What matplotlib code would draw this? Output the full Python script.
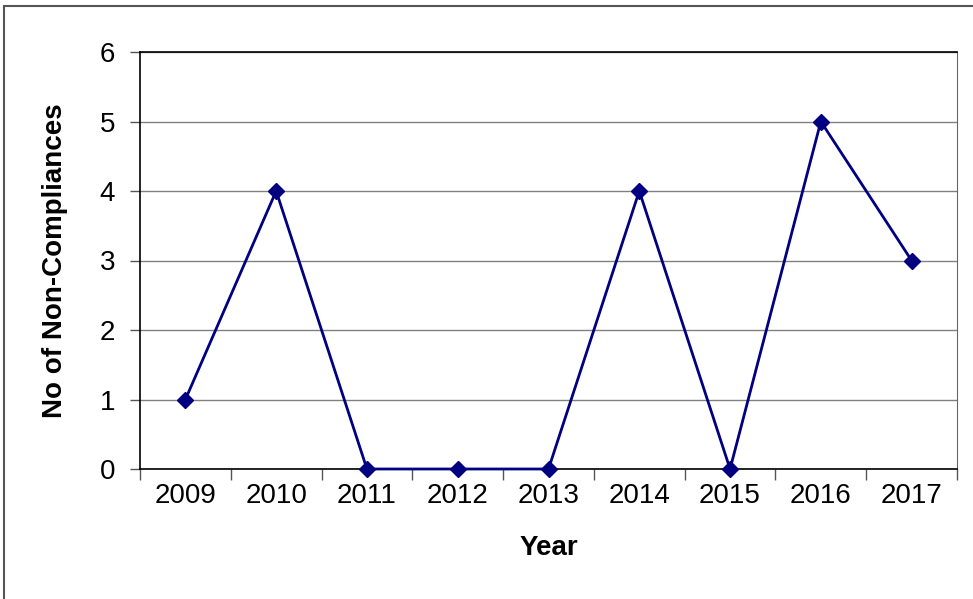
import matplotlib
matplotlib.use('Agg')
from matplotlib import pyplot as plt
from matplotlib.patches import Rectangle

plt.rcParams['font.family'] = ['Liberation Sans', 'DejaVu Sans']

years = ['2009', '2010', '2011', '2012', '2013', '2014', '2015', '2016', '2017']
non_compliances = [1, 4, 0, 0, 0, 4, 0, 5, 3]

W, H = 973, 599
FS = 20
fig = plt.figure(figsize=(W / 100, H / 100), dpi=100)

# chart area frame (runs off the right and bottom edges)
fig.patches.append(Rectangle((4 / W, -0.05), 1.0, 1 - 6 / H + 0.05,
                             transform=fig.transFigure, fill=False,
                             edgecolor='#555555', linewidth=1.5))

ax = fig.add_axes([140 / W, 1 - 469 / H, (957 - 140) / W, (469 - 52) / H])

x = list(range(len(years)))
ax.plot(x, non_compliances, color='#000080', linewidth=2, marker='D',
        markersize=8, markerfacecolor='#000080', markeredgecolor='#000080',
        zorder=5, clip_on=False)

ax.set_xlim(-0.5, len(years) - 0.5)
ax.set_ylim(0, 6)
ax.set_yticks(range(0, 7))
ax.yaxis.grid(True, color='#808080', linewidth=1)
ax.set_axisbelow(True)

# year labels centred on categories, tick marks on the boundaries
ax.set_xticks(x)
ax.set_xticklabels(years)
ax.tick_params(axis='x', which='major', length=0, pad=10, labelsize=FS)
ax.set_xticks([i - 0.5 for i in range(len(years) + 1)], minor=True)
ax.tick_params(axis='x', which='minor', length=8, width=1, color='#555555')
ax.tick_params(axis='y', length=7, width=1, color='#555555', pad=11, labelsize=FS)

for side in ['left', 'bottom', 'top']:
    ax.spines[side].set_color('black')
    ax.spines[side].set_linewidth(1.2)
ax.spines['right'].set_color('#666666')

ax.set_xlabel('Year', fontsize=FS, fontweight='bold', labelpad=19)
ax.set_ylabel('No of Non-Compliances', fontsize=FS, fontweight='bold', labelpad=23)

fig.savefig('out.png', dpi=100)
